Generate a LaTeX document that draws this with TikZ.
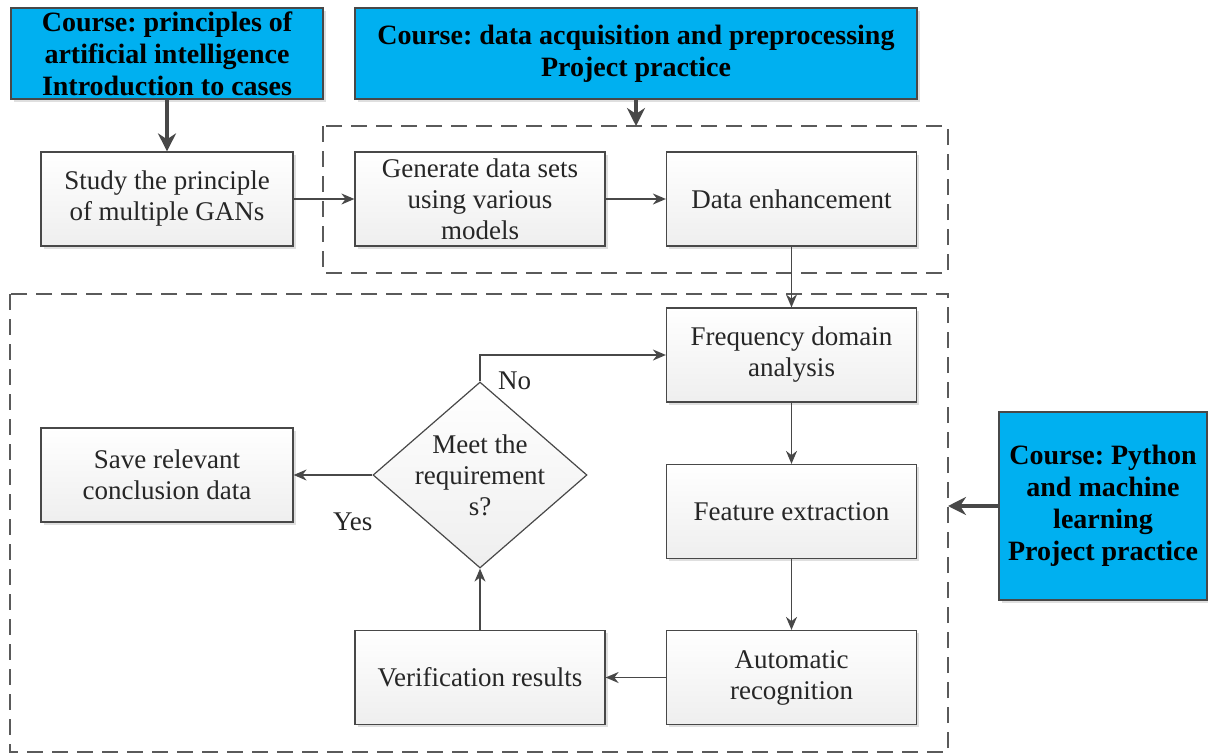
\documentclass[tikz,border=0pt]{standalone}
\usepackage{fontspec}
\setmainfont{Liberation Serif}
\usetikzlibrary{arrows.meta,shapes.geometric,shadows}
\definecolor{coursecyan}{RGB}{0,176,240}
\definecolor{edgegray}{RGB}{72,72,72}
\frenchspacing

\begin{document}
\begin{tikzpicture}[x=1pt, y=-1pt, >=Stealth,
  font=\fontsize{27}{31}\selectfont, text=black!85,
  boxshadow/.style={drop shadow={shadow xshift=2.5pt, shadow yshift=-2.5pt, opacity=0.25, fill=gray}},
  stepbox/.style={draw=edgegray, line width=1.2pt, top color=white, bottom color=gray!13,
    minimum width=250pt, minimum height=94pt, align=center, boxshadow},
  coursebox/.style={draw=edgegray, line width=1.2pt, fill=coursecyan, text=black,
    font=\fontsize{28}{32}\selectfont\bfseries, align=center, boxshadow},
  decision/.style={diamond, draw=edgegray, line width=1.2pt, top color=white, bottom color=gray!13,
    minimum width=214pt, minimum height=186pt, inner sep=-12pt, align=center},
  group/.style={draw=edgegray!90, line width=1.8pt, dash pattern=on 16pt off 9pt},
  flow/.style={draw=edgegray, line width=1.6pt, -{Stealth[length=13pt, width=11pt]}},
  coursearrow/.style={draw=edgegray, line width=3.6pt, -{Stealth[length=18pt, width=18pt]}}]
  \useasboundingbox (0,0) rectangle (1208,755);

  % course boxes
  \node[coursebox, minimum width=312pt, minimum height=91pt] (course1) at (167,53.5)
    {Course: principles of\\artificial intelligence\\Introduction to cases};
  \node[coursebox, minimum width=562pt, minimum height=91pt] (course2) at (636,53.5)
    {Course: data acquisition and preprocessing\\Project practice};
  \node[coursebox, minimum width=208pt, minimum height=188pt] (course3) at (1103,506)
    {Course: Python\\and machine\\learning\\Project practice};

  % dashed groups
  \draw[group] (323,126) rectangle (948,273);
  \draw[group] (10,294) rectangle (948,752);
  \coordinate (grouptop) at (636,126);
  \coordinate (groupright) at (948,506);

  % steps
  \node[stepbox, minimum width=252pt] (study) at (167,199) {Study the principle\\of multiple GANs};
  \node[stepbox] (generate) at (480,199) {Generate data sets\\using various\\models};
  \node[stepbox] (enhance) at (791.5,199) {Data enhancement};
  \node[stepbox] (freq) at (791.5,355) {Frequency domain\\analysis};
  \node[stepbox] (feature) at (791.5,511.5) {Feature extraction};
  \node[stepbox] (auto) at (791.5,677.5) {Automatic\\recognition};
  \node[stepbox] (verify) at (480,677.5) {Verification results};
  \node[stepbox, minimum width=252pt] (save) at (167,475) {Save relevant\\conclusion data};
  \node[decision] (meet) at (480,475) {Meet the\\requirement\\s?};

  % connectors
  \draw[coursearrow] (course1) -- (study);
  \draw[coursearrow] (course2) -- (grouptop);
  \draw[coursearrow] (course3) -- (groupright);
  \draw[flow] (study) -- (generate);
  \draw[flow] (generate) -- (enhance);
  \draw[flow] (enhance) -- (freq);
  \draw[flow] (freq) -- (feature);
  \draw[flow] (feature) -- (auto);
  \draw[flow] (auto) -- (verify);
  \draw[flow] (verify) -- (meet);
  \draw[flow] (meet.north) |- node[pos=0.3, below right, xshift=14pt, yshift=-2pt]{No} (freq.west);
  \draw[flow] (meet.west) -- node[pos=0.25, below=34pt]{Yes} (save.east);
\end{tikzpicture}
\end{document}
